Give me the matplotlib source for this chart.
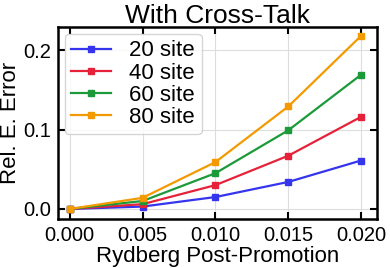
import numpy as np
import matplotlib.pyplot as plt

plt.rcParams['font.family'] = ['Liberation Sans', 'DejaVu Sans']

x = [0.0, 0.005, 0.010, 0.015, 0.020]
err_20 = [0.0, 0.003, 0.015, 0.034, 0.061]
err_40 = [0.0, 0.006, 0.030, 0.067, 0.116]
err_60 = [0.0, 0.010, 0.045, 0.099, 0.169]
err_80 = [0.0, 0.014, 0.059, 0.129, 0.218]
labels = ['20 site', '40 site', '60 site', '80 site']
colors = ['#3535ee', '#e5223a', '#1c9a3a', '#f39a00']

fig = plt.figure(figsize=(3.9, 2.68), dpi=100)
ax = fig.add_axes([0.149, 0.183, 0.818, 0.716])

for y, lab, c in zip([err_20, err_40, err_60, err_80], labels, colors):
    ax.plot(x, y, '-s', color=c, label=lab, lw=1.6, ms=5)

ax.set_xlim(-0.0008, 0.0211)
ax.set_ylim(-0.0126, 0.229)
ax.set_xticks([0.0, 0.005, 0.010, 0.015, 0.020])
ax.set_yticks([0.0, 0.1, 0.2])
ax.set_xticklabels(['0.000', '0.005', '0.010', '0.015', '0.020'])
ax.set_yticklabels(['0.0', '0.1', '0.2'])
ax.tick_params(direction='in', top=True, right=True, labelsize=14.5, length=5, width=1.5, pad=5)
for s in ax.spines.values():
    s.set_linewidth(1.8)
ax.grid(True, color='#dddddd', lw=0.8)
ax.set_axisbelow(True)

ax.set_xlabel('Rydberg Post-Promotion', fontsize=16, labelpad=1)
ax.set_ylabel('Rel. E. Error', fontsize=16, labelpad=2)
ax.set_title('With Cross-Talk', fontsize=19, pad=3)
ax.legend(loc='upper left', fontsize=16, handlelength=1.8, borderpad=0.3,
          labelspacing=0.05, handletextpad=0.8, borderaxespad=0.3, framealpha=0.8)

plt.savefig('out.png')
